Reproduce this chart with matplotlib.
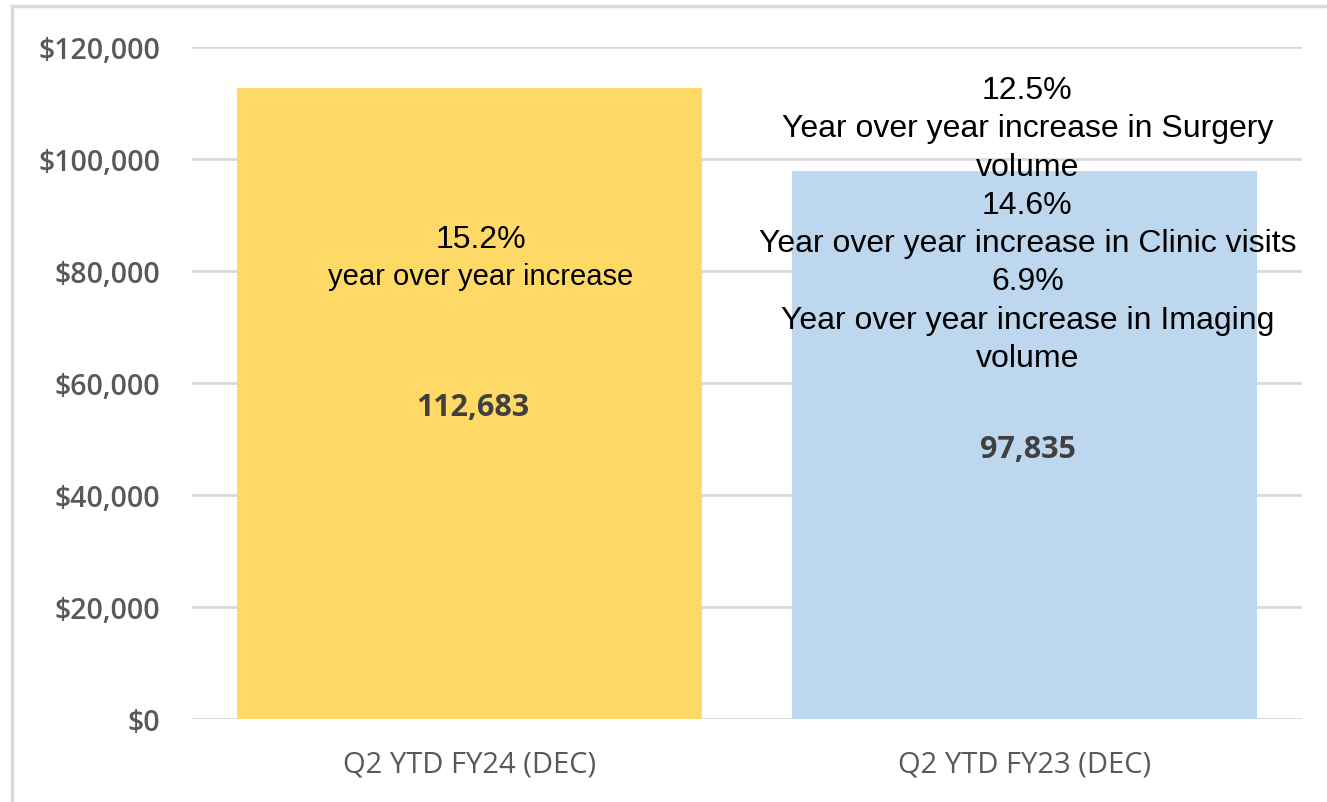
import matplotlib
matplotlib.use("Agg")
import matplotlib.pyplot as plt
from matplotlib.lines import Line2D
from matplotlib.ticker import FuncFormatter

categories = ["Q2 YTD FY24 (DEC)", "Q2 YTD FY23 (DEC)"]
values = [112683, 97835]
bar_colors = ["#FED966", "#BDD7EE"]
yticks = [0, 20000, 40000, 60000, 80000, 100000, 120000]
left_pct = "15.2%"
left_note = "year over year increase"
right_note = ("12.5%\nYear over year increase in Surgery\nvolume\n"
              "14.6%\nYear over year increase in Clinic visits\n"
              "6.9%\nYear over year increase in Imaging\nvolume")

W, H = 1327, 803
fig = plt.figure(figsize=(W / 100, H / 100), dpi=100)
ax = fig.add_axes([192 / W, 1 - 720 / H, (1302 - 192) / W, (720 - 48) / H])

x = list(range(len(categories)))
ax.bar(x, values, width=0.838, color=bar_colors, zorder=2)
ax.set_xlim(-0.5, 1.5)
ax.set_ylim(0, 120000)
ax.set_yticks(yticks)
ax.yaxis.set_major_formatter(FuncFormatter(lambda v, p: f"${v:,.0f}"))
ax.set_xticks(x)
ax.set_xticklabels(categories)
ax.grid(axis="y", color="#D9D9D9", linewidth=2, zorder=0)
for s in ax.spines.values():
    s.set_visible(False)
ax.tick_params(axis="both", length=0)
ax.tick_params(axis="y", pad=23)
ax.tick_params(axis="x", pad=22)
for lab in ax.get_yticklabels():
    lab.set_fontfamily("Open Sans")
    lab.set_fontweight("semibold")
    lab.set_fontsize(20.5)
    lab.set_color("#595959")
for lab in ax.get_xticklabels():
    lab.set_fontfamily("Open Sans")
    lab.set_fontsize(21)
    lab.set_color("#595959")

# value labels at the centre of each bar
for xi, v in zip(x, values):
    ax.annotate(f"{v:,}", xy=(xi, v / 2), xytext=(3, -4), textcoords="offset pixels",
                ha="center", va="center", fontfamily="Open Sans", fontweight="bold",
                fontsize=22, color="#404040", zorder=3)

ax.text(0.02, 85640, left_pct, ha="center", va="center", fontfamily="Liberation Sans",
        fontsize=23, color="black", zorder=3)
ax.text(0.02, 79140, left_note, ha="center", va="center", fontfamily="Liberation Sans",
        fontsize=21, color="black", zorder=3)
ax.text(1.005, 88400, right_note, ha="center", va="center", fontfamily="Liberation Sans",
        fontsize=23, color="black", linespacing=1.36, zorder=3)

# outer border (top and left)
fig.add_artist(Line2D([12 / W, 1], [1 - 7 / H, 1 - 7 / H], color="#D9D9D9", linewidth=2.5))
fig.add_artist(Line2D([12 / W, 12 / W], [0, 1 - 7 / H], color="#D9D9D9", linewidth=2.5))

fig.savefig("out.png", dpi=100)
